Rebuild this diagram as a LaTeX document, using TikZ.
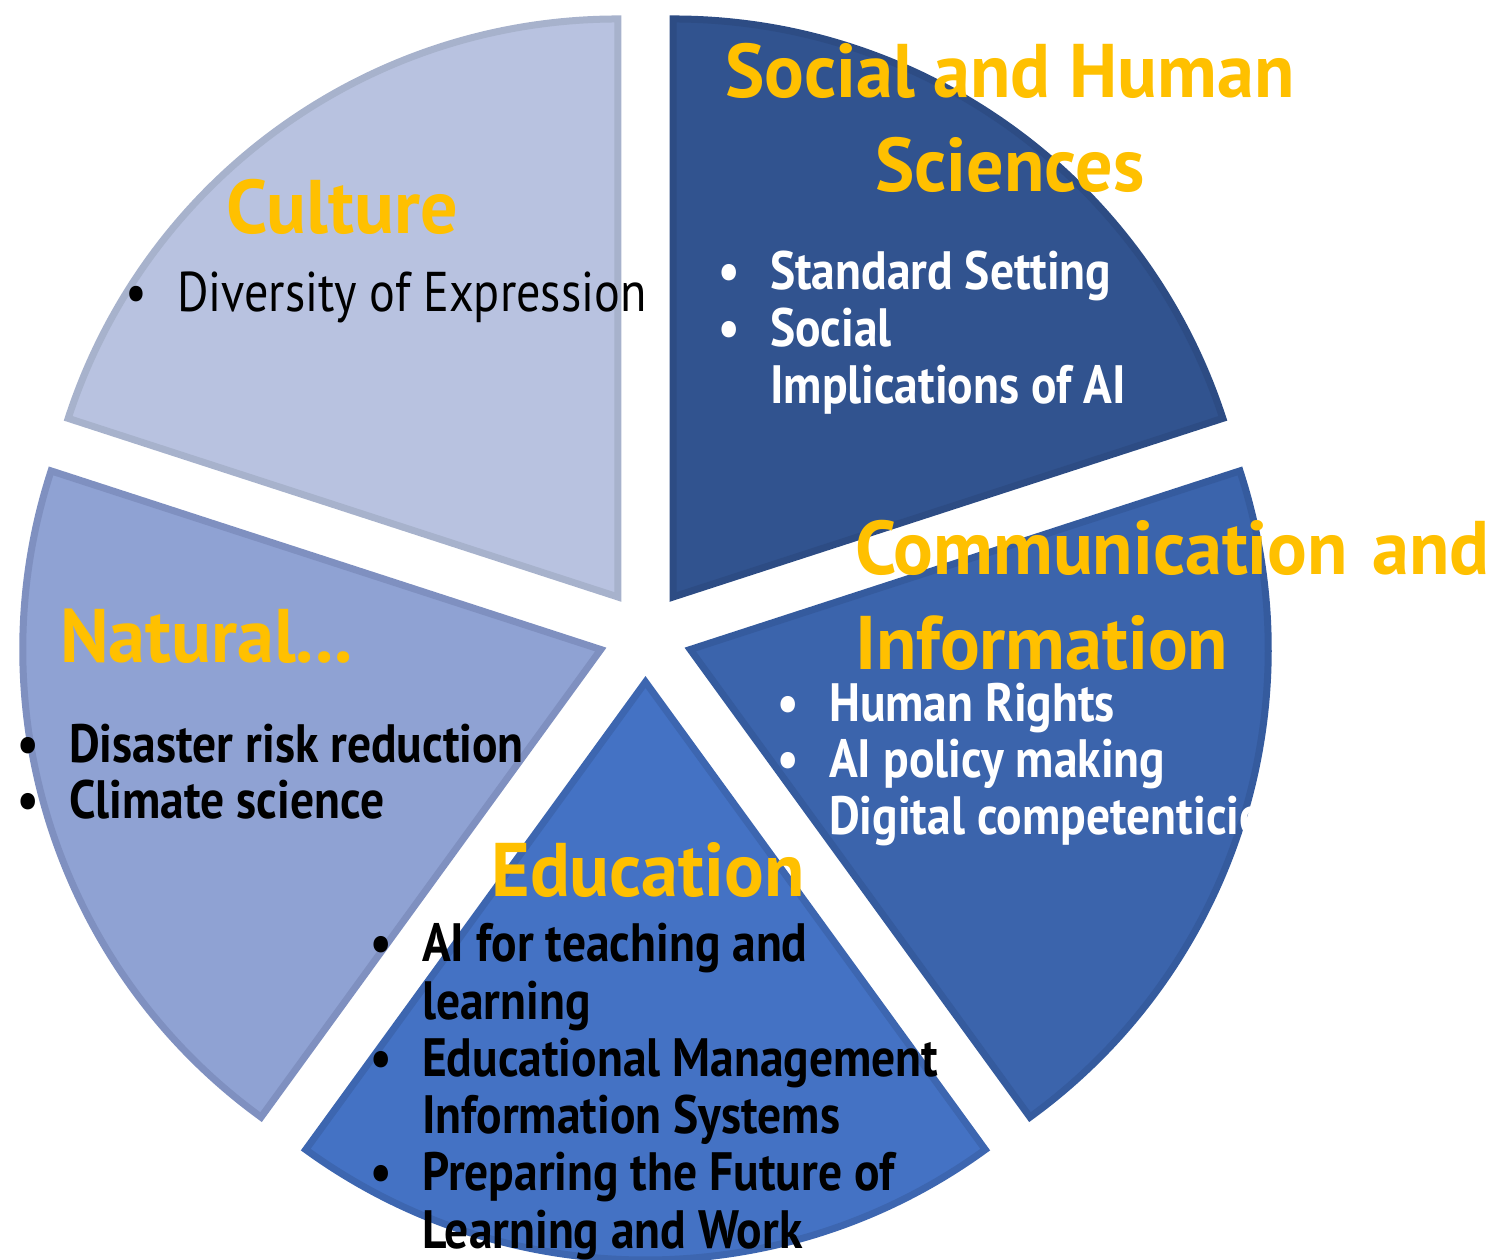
\documentclass[tikz,border=0pt]{standalone}
\usepackage{fontspec}
\setmainfont{PT Sans}
\newfontfamily\headfamily{PT Sans}[FakeStretch=0.975]
\newfontfamily\listfamily{PT Sans}[FakeStretch=0.88]
\newfontfamily\plainfamily{PT Sans}[FakeStretch=0.86]
\usetikzlibrary{calc,positioning}

\definecolor{culturefill}{HTML}{B8C2E0}
\definecolor{cultureline}{HTML}{A7B2CC}
\definecolor{naturalfill}{HTML}{8FA2D3}
\definecolor{naturalline}{HTML}{7F90C0}
\definecolor{educfill}{HTML}{4472C4}
\definecolor{educline}{HTML}{3D66B0}
\definecolor{commfill}{HTML}{3B64AC}
\definecolor{commline}{HTML}{355B9E}
\definecolor{socialfill}{HTML}{31538F}
\definecolor{socialline}{HTML}{2D4C84}
\definecolor{headyellow}{HTML}{FFC000}

\newcommand{\headfont}{\headfamily\fontsize{76}{94}\selectfont\bfseries}
\newcommand{\listfont}{\listfamily\fontsize{54}{57}\selectfont\bfseries}
\newcommand{\bitem}{\makebox[52pt][l]{\textbullet}}
\newcommand{\bcont}{\hspace*{52pt}}

\tikzset{
    wedge/.style={line width=7pt, line join=miter},
    heading/.style={font=\headfont, text=headyellow, inner sep=0pt},
    listline/.style={font=\listfont, inner sep=0pt, anchor=base west}
}

\begin{document}
\begin{tikzpicture}[x=1pt, y=1pt]
    \useasboundingbox (0,0) rectangle (1491,1259);
    \coordinate (centre) at (645.5,624);

    % the five exploded slices
    \foreach \start/\fillc/\linec in {90/culturefill/cultureline, 18/socialfill/socialline, -54/commfill/commline, -126/educfill/educline, 162/naturalfill/naturalline}
        \draw[wedge, fill=\fillc, draw=\linec] ($(centre)+(\start+36:47)$) -- ++(\start:578) arc[start angle=\start, delta angle=72, radius=578] -- cycle;

    % Culture
    \node[heading, anchor=base] (culture) at (342,1025) {Culture};
    \node[listline, font=\plainfamily\fontsize{56}{57}\selectfont] (culture0) at (125,947) {\bitem Diversity of Expression};

    % Social and Human Sciences
    \node[heading, anchor=base] (social) at (1010,1161) {Social and Human};
    \node[heading, anchor=base] (social2) at (1010,1067) {Sciences};
    \foreach \txt [count=\i from 0] in {{\bitem Standard Setting}, {\bitem Social}, {\bcont Implications of AI}}
        \node[listline, text=white] (social\i) at (718,969-57*\i) {\txt};

    % Communication and Information
    \node[heading, anchor=base west] (comm) at (855,684) {Communication\hspace{6pt} and};
    \node[heading, anchor=base west] (comm2) at (855,589) {Information};
    \foreach \txt [count=\i from 0] in {{\bitem Human Rights}, {\bitem AI policy making}}
        \node[listline, text=white] (comm\i) at (777,537-56*\i) {\txt};
    \begin{scope}
        \clip (0,0) rectangle (1262,1259);
        \node[listline, text=white] (comm3) at (777,424) {\bcont Digital competenticies};
    \end{scope}

    % Natural Sciences
    \node[heading, anchor=base west] (natural) at (60,596) {Natural...};
    \foreach \txt [count=\i from 0] in {{\bitem Disaster risk reduction}, {\bitem Climate science}}
        \node[listline] (natural\i) at (17,496-56*\i) {\txt};

    % Education
    \node[heading, anchor=base] (educ) at (648,362) {Education};
    \foreach \txt [count=\i from 0] in {{\bitem AI for teaching and}, {\bcont learning}, {\bitem Educational Management}, {\bcont Information Systems}, {\bitem Preparing the Future of}, {\bcont Learning and Work}}
        \node[listline] (educ\i) at (370,297-57.2*\i) {\txt};
\end{tikzpicture}
\end{document}
